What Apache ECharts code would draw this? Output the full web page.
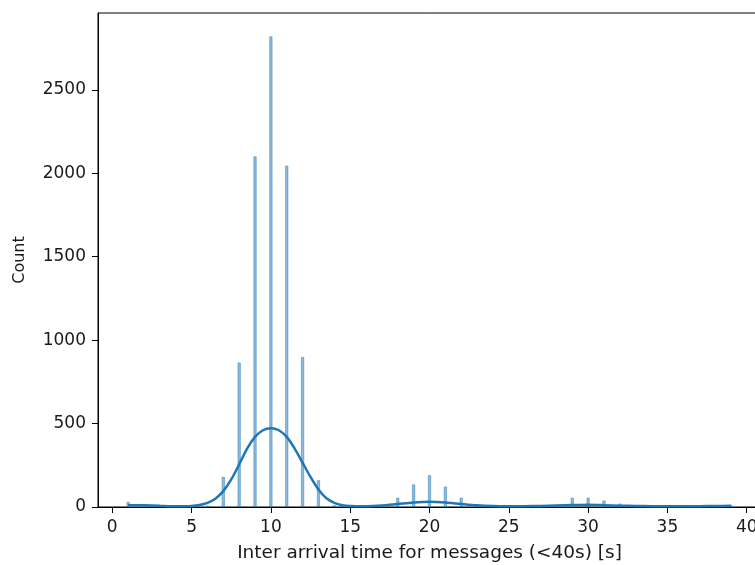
<!DOCTYPE html>
<html>
<head>
<meta charset="utf-8">
<script src="https://cdn.jsdelivr.net/npm/echarts@6/dist/echarts.min.js"></script>
<style>
html,body{margin:0;padding:0;background:#fff;overflow:hidden;width:755px;height:565px;}
#chart{width:761px;height:565px;}
</style>
</head>
<body>
<div id="chart"></div>
<script>
// Histogram bins (centres at integer seconds) and counts
var binCenters = [1,2,3,4,5,6,7,8,9,10,11,12,13,14,15,16,17,18,19,20,21,22,23,24,25,26,27,28,29,30,31,32,33,34,35,36,37,38,39];
var binCounts  = [30,12,5,3,4,8,180,865,2100,2820,2045,898,160,10,5,6,12,55,135,190,122,55,15,8,5,6,8,12,55,55,38,20,8,6,5,5,5,6,12];

// KDE curve
var kdeX = [1,1.5,2,3,4,5,5.5,6,6.5,7,7.5,8,8.5,9,9.5,10,10.5,11,11.5,12,12.5,13,13.5,14,14.5,15,16,17,18,19,20,21,22,23,24,25,26,27,28,29,30,31,32,33,34,35,36,37,38,39];
var kdeY = [10,11,10,7,4,6,12,25,50,95,165,255,350,420,460,472,460,420,350,265,180,105,52,25,11,6,5,9,18,27,31,27,18,10,6,5,5,6,9,12,13,11,8,6,5,5,5,5,6,7];

// Axis ticks
var xTicks = [0,5,10,15,20,25,30,35,40];
var yTicks = [0,500,1000,1500,2000,2500];

var barData = binCenters.map(function(x,i){return [x, binCounts[i]];});
var kdeData = kdeX.map(function(x,i){return [x, kdeY[i]];});

var font = 'DejaVu Sans';
var txt = '#1a1a1a';
var chart = echarts.init(document.getElementById('chart'), null, {renderer:'canvas'});
chart.setOption({
  animation:false,
  backgroundColor:'#ffffff',
  grid:{left:98, right:0, top:13, bottom:58, containLabel:false, outerBoundsMode:'none',
    show:true, borderColor:'#000', borderWidth:1, backgroundColor:'transparent'},
  xAxis:{
    type:'value', min:-0.9, max:40.9,
    name:'Inter arrival time for messages (<40s) [s]',
    nameLocation:'middle', nameGap:37,
    nameTextStyle:{fontFamily:font, fontSize:18.5, color:txt},
    axisLine:{show:true, onZero:false, lineStyle:{color:'#000', width:1}},
    axisTick:{show:true, length:6, lineStyle:{color:'#000'}, customValues:xTicks},
    axisLabel:{fontFamily:font, fontSize:17, color:txt, margin:12, customValues:xTicks,
      formatter:function(v){return String(v);}},
    splitLine:{show:false}
  },
  yAxis:{
    type:'value', min:0, max:2960,
    name:'Count', nameLocation:'middle', nameGap:70,
    nameTextStyle:{fontFamily:font, fontSize:16, color:txt},
    axisLine:{show:true, onZero:false, lineStyle:{color:'#000', width:1}},
    axisTick:{show:true, length:6, lineStyle:{color:'#000'}, customValues:yTicks},
    axisLabel:{fontFamily:font, fontSize:17, color:txt, margin:12, customValues:yTicks,
      formatter:function(v){return String(v);}},
    splitLine:{show:false}
  },
  series:[
    {
      type:'bar', data:barData, barWidth:3,
      itemStyle:{color:'rgba(31,119,180,0.5)', borderColor:'rgba(31,119,180,0.75)', borderWidth:0.6},
      silent:true
    },
    {
      type:'line', data:kdeData, smooth:0.3, symbol:'none',
      lineStyle:{color:'#1f77b4', width:2.5},
      silent:true, z:5
    }
  ]
});
</script>
</body>
</html>
